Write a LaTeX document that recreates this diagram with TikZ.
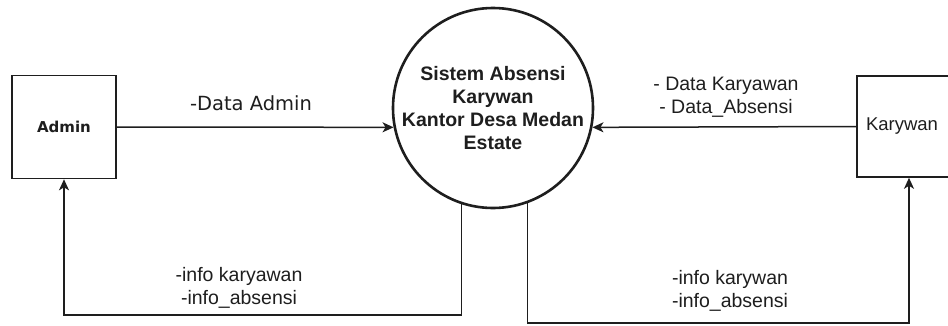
\documentclass[tikz,border=0pt]{standalone}
\usepackage{fontspec}
\setmainfont{Liberation Sans}
\newfontfamily\dvfont{DejaVu Sans}
\usetikzlibrary{arrows.meta}
\definecolor{ink}{HTML}{1E1E1E}
\begin{document}
\begin{tikzpicture}[x=1pt,y=-1pt,
  arr/.style={draw=ink,line width=1.5pt,-{Stealth[length=11pt,width=10pt,inset=3pt]}},
  entbox/.style={draw=ink,line width=1.6pt,fill=white,minimum width=104pt,minimum height=103pt,inner sep=0pt,text=ink},
  proc/.style={circle,draw=ink,line width=2.6pt,minimum size=198pt,inner sep=0pt,align=center,text=ink,
    font=\bfseries\fontsize{19.5}{23.3}\selectfont},
  lbl/.style={align=center,text=ink,inner sep=0pt,font=\fontsize{19.5}{22.5}\selectfont}]
\clip (0,0) rectangle (948,325);
\fill[white] (0,0) rectangle (948,325);
\node[entbox,font=\dvfont\bfseries\fontsize{15}{18}\selectfont] (admin) at (64,127) {Admin};
\node[entbox,minimum height=101pt,font=\fontsize{18.5}{22}\selectfont] (kary) at (909,126.5) {\hspace*{-14pt}Karywan};
\node[proc] (c) at (493,108) {Sistem Absensi\\Karywan\\Kantor Desa Medan\\Estate};
\coordinate (lowL) at (64,315);
\coordinate (lowR) at (909,323);
\draw[arr] (admin.east) -- (c.191);
\draw[arr] (kary.west) -- (c.349);
\draw[arr] (c.252) |- (lowL) -- (admin.south);
\draw[arr] (c.290) |- (lowR) -- (kary.south);
\node[lbl,font=\dvfont\fontsize{19.5}{23}\selectfont] (la) at (251,103) {-Data Admin};
\node[lbl] (lk) at (726,97) {- Data Karyawan\\- Data\_Absensi};
\node[lbl] (li) at (239,288) {-info karyawan\\-info\_absensi};
\node[lbl] (ri) at (730,291) {-info karywan\\-info\_absensi};
\end{tikzpicture}
\end{document}
